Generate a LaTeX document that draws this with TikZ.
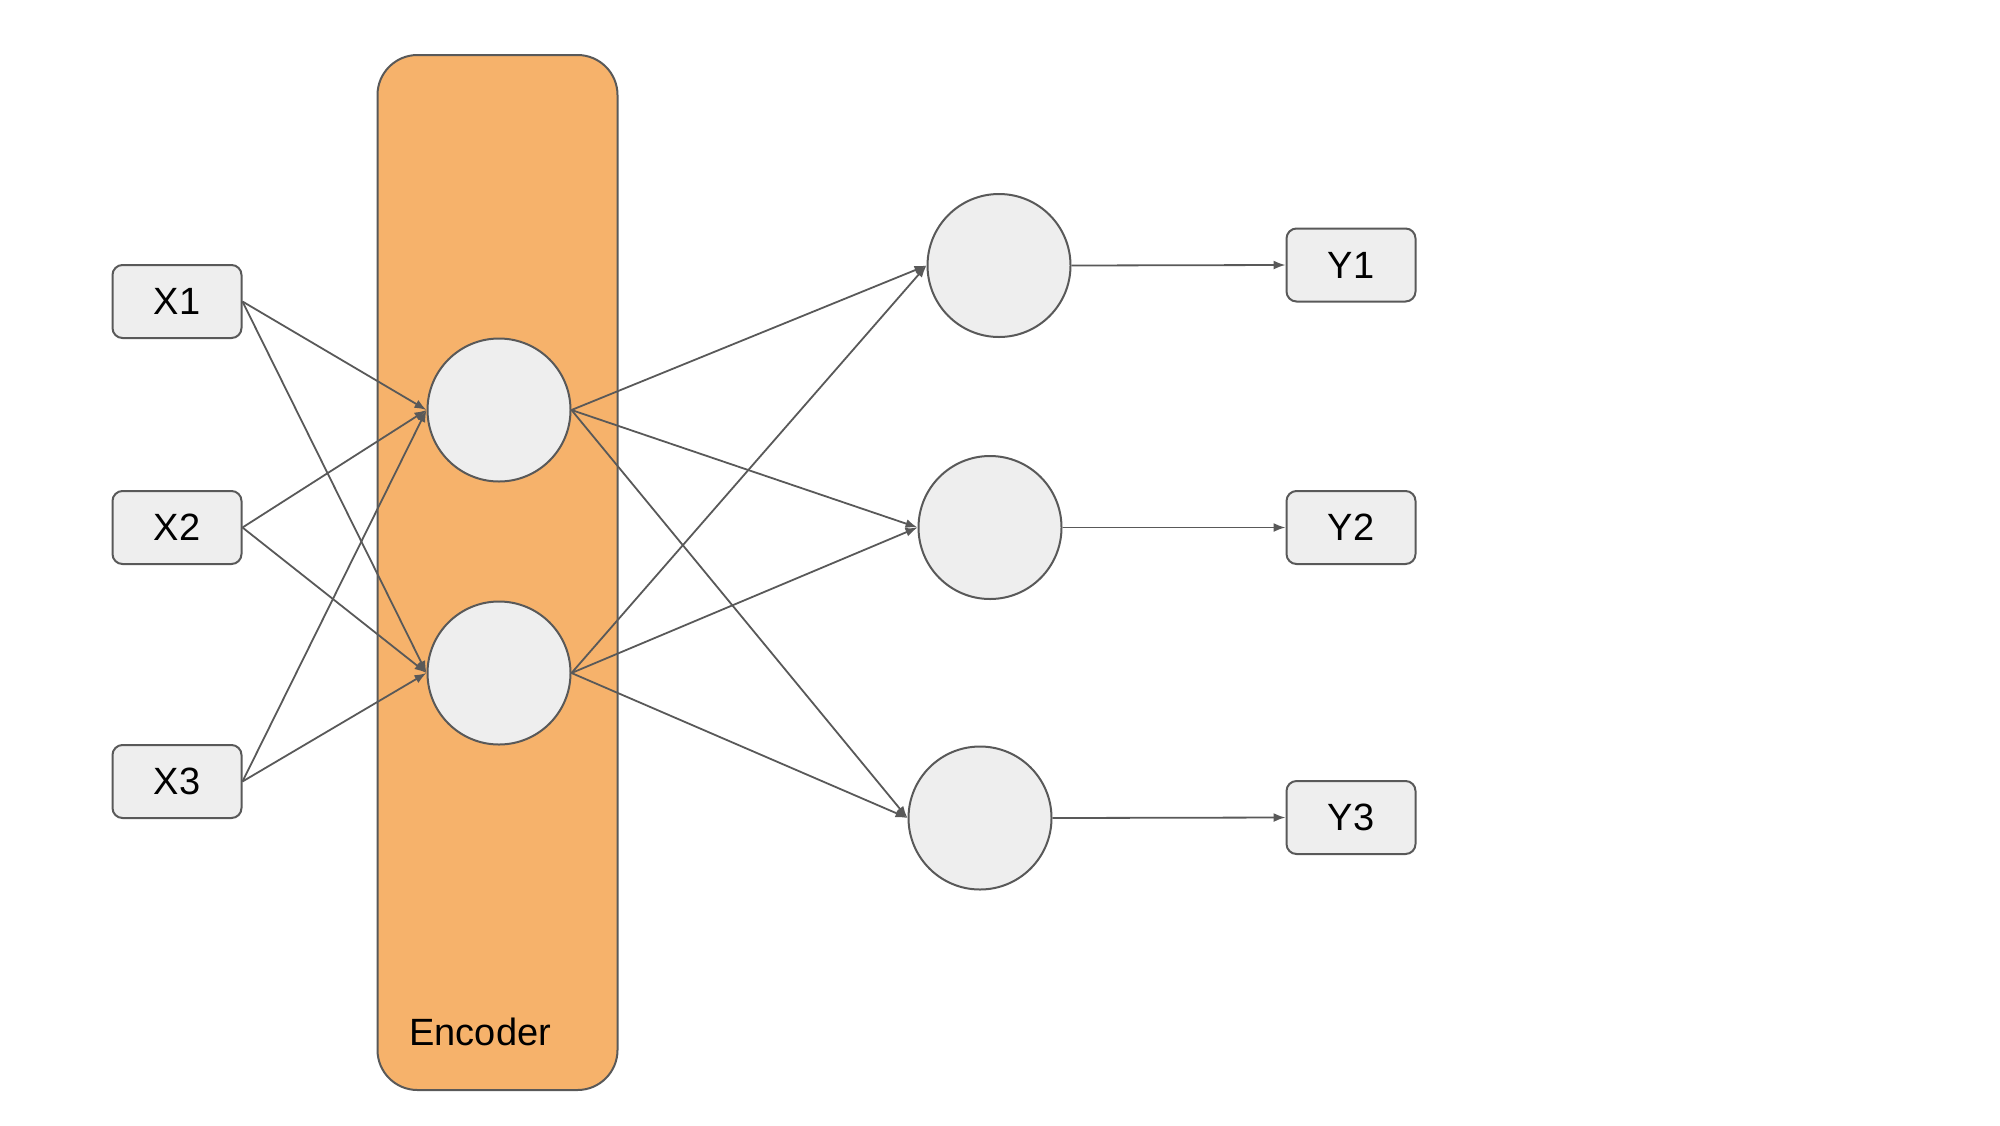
\documentclass[tikz,border=0pt]{standalone}
\usepackage{fontspec}
\setmainfont{Liberation Sans}
\usetikzlibrary{arrows.meta}
\definecolor{linegray}{HTML}{595959}
\definecolor{nodefill}{HTML}{EEEEEE}
\definecolor{encorange}{HTML}{F6B26B}
\tikzset{
  iobox/.style={draw=linegray, fill=nodefill, line width=1pt, rounded corners=5pt,
    minimum width=64.5pt, minimum height=36.5pt, inner sep=0pt, font=\fontsize{19}{22}\selectfont},
  neuron/.style={draw=linegray, fill=nodefill, line width=1pt, circle, minimum size=71.5pt, inner sep=0pt},
  conn/.style={draw=linegray, line width=0.9pt, -{Latex[length=6pt,width=4.5pt]}},
}
\begin{document}
\begin{tikzpicture}[x=0.5pt,y=-0.5pt]
\useasboundingbox (0,0) rectangle (2000,1125);
\node[draw=linegray, fill=encorange, line width=1pt, rounded corners=20pt,
  minimum width=120pt, minimum height=517.5pt, inner sep=0pt] (enc) at (497.5,572.5) {};
\node[anchor=base west, font=\fontsize{19}{22}\selectfont, inner sep=0pt] (enclabel) at (409,1045) {Encoder};
\node[iobox] (x1) at (177,301.5) {X1};
\node[iobox] (x2) at (177,527.5) {X2};
\node[iobox] (x3) at (177,781.5) {X3};
\node[neuron] (h1) at (499,410) {};
\node[neuron] (h2) at (499,673) {};
\node[neuron] (o1) at (999,265.5) {};
\node[neuron] (o2) at (990,527.5) {};
\node[neuron] (o3) at (980,818) {};
\node[iobox] (y1) at (1351,265) {Y1};
\node[iobox] (y2) at (1351,527.5) {Y2};
\node[iobox] (y3) at (1351,817.5) {Y3};
\foreach \s in {x1,x2,x3}{
  \foreach \t in {h1,h2}{
    \draw[conn] (\s.east) -- (\t.west);
  }
}
\foreach \s in {h1,h2}{
  \foreach \t in {o1,o2,o3}{
    \draw[conn] (\s.east) -- (\t.west);
  }
}
\draw[conn] (o1.east) -- (y1.west);
\draw[conn] (o2.east) -- (y2.west);
\draw[conn] (o3.east) -- (y3.west);
\end{tikzpicture}
\end{document}
